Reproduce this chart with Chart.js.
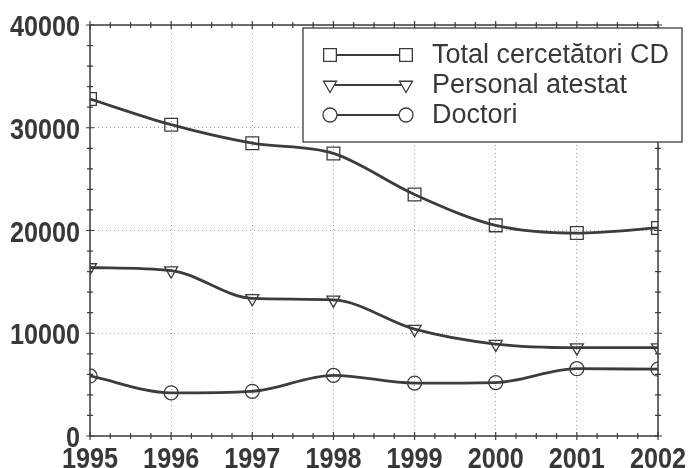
<!DOCTYPE html>
<html>
<head>
<meta charset="utf-8">
<script src="https://cdn.jsdelivr.net/npm/chart.js@4.4.1/dist/chart.umd.min.js"></script>
<style>
  html, body { margin: 0; padding: 0; background: #fff; }
  #wrap { width: 691px; height: 468px; }
</style>
</head>
<body>
<div id="wrap"><canvas id="chart" width="691" height="468"></canvas></div>
<script>
// Data
const years = ['1995', '1996', '1997', '1998', '1999', '2000', '2001', '2002'];
const totalCercetatori = [32800, 30300, 28500, 27500, 23500, 20500, 19750, 20250];
const personalAtestat = [16400, 16100, 13400, 13250, 10400, 8950, 8600, 8600];
const doctori = [5850, 4200, 4350, 5900, 5150, 5200, 6550, 6500];
const yTicks = [0, 10000, 20000, 30000, 40000];

const ink = '#3c3c3c';
const textInk = '#383838';
const fontFamily = '"Liberation Sans", Arial, sans-serif';

function series(label, data, pointStyle, rotation, radius) {
    return {
        label: label,
        data: data,
        borderColor: ink,
        borderWidth: 2.8,
        cubicInterpolationMode: 'monotone',
        pointStyle: pointStyle,
        rotation: rotation,
        pointRadius: radius,
        pointBorderWidth: 1.3,
        pointBorderColor: ink,
        pointBackgroundColor: 'rgba(255,255,255,0)',
        clip: 0
    };
}

// Frame with ticks on all four sides, drawn through the scales
const framePlugin = {
    id: 'frame',
    beforeDatasetsDraw(chart) {
        const ctx = chart.ctx;
        const a = chart.chartArea;
        const x = chart.scales.x;
        const y = chart.scales.y;
        ctx.save();
        ctx.strokeStyle = ink;
        ctx.lineWidth = 1.5;
        ctx.strokeRect(a.left, a.top, a.right - a.left, a.bottom - a.top);
        ctx.lineWidth = 1.2;
        ctx.beginPath();
        // x ticks: major every year, minor every quarter
        for (let i = 0; i < years.length; i++) {
            for (let q = 0; q < 4; q++) {
                if (i === years.length - 1 && q > 0) break;
                const px = x.getPixelForValue(i + q / 4);
                const len = q === 0 ? 4 : 3;
                ctx.moveTo(px, a.bottom - len); ctx.lineTo(px, a.bottom + len);
                ctx.moveTo(px, a.top - len); ctx.lineTo(px, a.top + len);
            }
        }
        // y ticks: major every 10000, minor every 2000
        for (let v = 0; v <= 40000; v += 2000) {
            const py = y.getPixelForValue(v);
            const len = v % 10000 === 0 ? 4 : 3;
            ctx.moveTo(a.left - len, py); ctx.lineTo(a.left + len, py);
            ctx.moveTo(a.right - len, py); ctx.lineTo(a.right + len, py);
        }
        ctx.stroke();
        ctx.restore();
    }
};

// Tick labels in a condensed bold face (no narrow font installed, so squeeze it)
const tickLabelPlugin = {
    id: 'tickLabels',
    afterDraw(chart) {
        const ctx = chart.ctx;
        const a = chart.chartArea;
        const x = chart.scales.x;
        const y = chart.scales.y;
        const squeeze = 0.84;
        ctx.save();
        ctx.fillStyle = textInk;
        ctx.font = 'bold 30px ' + fontFamily;
        ctx.textBaseline = 'alphabetic';
        y.ticks.forEach(t => {
            const py = y.getPixelForValue(t.value);
            ctx.save();
            ctx.translate(a.left - 10, py + 11);
            ctx.scale(squeeze, 1);
            ctx.textAlign = 'right';
            ctx.fillText(String(t.value), 0, 0);
            ctx.restore();
        });
        years.forEach((label, i) => {
            const px = x.getPixelForValue(i);
            ctx.save();
            ctx.translate(px, a.bottom + 32);
            ctx.scale(squeeze, 1);
            ctx.textAlign = 'center';
            ctx.fillText(label, 0, 0);
            ctx.restore();
        });
        ctx.restore();
    }
};

// Legend box: marker - line - marker, then label
const legendPlugin = {
    id: 'boxLegend',
    afterDraw(chart) {
        const ctx = chart.ctx;
        const box = { left: 303, top: 28, right: 682, bottom: 142 };
        ctx.save();
        ctx.fillStyle = '#fff';
        ctx.fillRect(box.left, box.top, box.right - box.left, box.bottom - box.top);
        ctx.strokeStyle = ink;
        ctx.lineWidth = 1.3;
        ctx.strokeRect(box.left, box.top, box.right - box.left, box.bottom - box.top);
        chart.data.datasets.forEach((ds, i) => {
            const cy = 55 + i * 30;
            const x1 = 330, x2 = 406;
            ctx.strokeStyle = ink;
            ctx.lineWidth = 2.2;
            ctx.beginPath();
            ctx.moveTo(x1, cy); ctx.lineTo(x2, cy);
            ctx.stroke();
            const opts = { pointStyle: ds.pointStyle, rotation: ds.rotation, radius: ds.pointRadius, borderWidth: 1.3 };
            ctx.lineWidth = 1.3;
            ctx.fillStyle = '#fff';
            [x1, x2].forEach(px => {
                Chart.helpers.drawPoint(ctx, opts, px, cy);
            });
            ctx.fillStyle = textInk;
            ctx.font = '27px ' + fontFamily;
            ctx.textBaseline = 'middle';
            ctx.textAlign = 'left';
            ctx.fillText(ds.label, 432, cy + 1);
        });
        ctx.restore();
    }
};

new Chart(document.getElementById('chart'), {
    type: 'line',
    data: {
        labels: years,
        datasets: [
            series('Total cercetători CD', totalCercetatori, 'rect', 0, 9),
            series('Personal atestat', personalAtestat, 'triangle', 180, 7.5),
            series('Doctori', doctori, 'circle', 0, 7)
        ]
    },
    options: {
        responsive: false,
        animation: false,
        layout: { padding: { top: 25, right: 33, left: 0, bottom: 0 } },
        plugins: {
            legend: { display: false },
            tooltip: { enabled: false }
        },
        scales: {
            x: {
                type: 'category',
                offset: false,
                grid: { color: '#a0a0a0', lineWidth: 1, drawTicks: false },
                border: { display: false, dash: [1, 3] },
                ticks: { display: false, autoSkip: false },
                afterFit(scale) { scale.height = 32; }
            },
            y: {
                min: 0,
                max: 40000,
                afterBuildTicks(scale) { scale.ticks = yTicks.map(v => ({ value: v })); },
                grid: { color: '#a0a0a0', lineWidth: 1, drawTicks: false },
                border: { display: false, dash: [1, 3] },
                ticks: { display: false },
                afterFit(scale) { scale.width = 90; }
            }
        }
    },
    plugins: [framePlugin, tickLabelPlugin, legendPlugin]
});
</script>
</body>
</html>
